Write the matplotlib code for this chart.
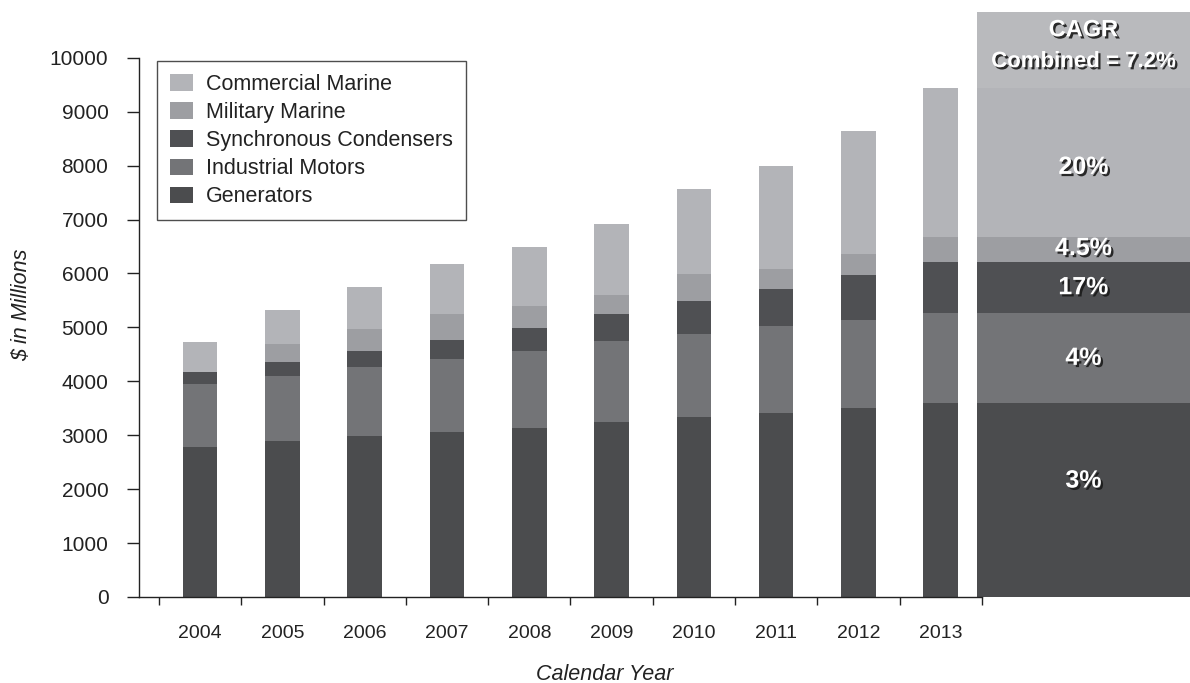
import matplotlib
matplotlib.use("Agg")
import matplotlib.pyplot as plt
import matplotlib.patheffects as pe
import numpy as np

plt.rcParams['font.family'] = ['Liberation Sans', 'DejaVu Sans']

# data ($ in millions)
years = ['2004', '2005', '2006', '2007', '2008', '2009', '2010', '2011', '2012', '2013']
generators = [2780, 2890, 2990, 3060, 3140, 3250, 3340, 3410, 3510, 3600]
industrial_motors = [1170, 1210, 1280, 1360, 1420, 1500, 1540, 1620, 1630, 1670]
sync_condensers = [220, 260, 290, 350, 430, 500, 610, 680, 830, 950]
military_marine = [0, 330, 410, 480, 410, 350, 500, 380, 390, 460]
commercial_marine = [560, 630, 780, 930, 1090, 1320, 1580, 1910, 2290, 2760]

series_names = ['Generators', 'Industrial Motors', 'Synchronous Condensers',
                'Military Marine', 'Commercial Marine']
series_colors = ['#4b4c4e', '#737477', '#4f5053', '#9d9ea2', '#b3b4b8']
cagr_labels = ['3%', '4%', '17%', '4.5%', '20%']
cagr_title = 'CAGR'
cagr_combined = 'Combined = 7.2%'

text_color = '#222222'

fig = plt.figure(figsize=(11.9, 6.83), dpi=100)
ax = fig.add_axes([139 / 1190, 86 / 683, 1051 / 1190, 585 / 683])

series = [generators, industrial_motors, sync_condensers, military_marine, commercial_marine]
x = np.arange(len(years))
bottom = np.zeros(len(years))
handles = []
for name, vals, col in zip(series_names, series, series_colors):
    b = ax.bar(x, vals, width=0.42, bottom=bottom, color=col, label=name, linewidth=0)
    handles.append(b)
    bottom += np.array(vals)

# CAGR panel on the right, banded like the 2013 bar
panel_left, panel_right = 9.44, 12.03
panel_top = 10850
pc = (panel_left + panel_right) / 2
pw = panel_right - panel_left
pb = 0
shadow = [pe.withSimplePatchShadow(offset=(1.6, -1.6), shadow_rgbFace='#1a1a1a', alpha=0.9)]
# where in each band the label sits (fraction of band height)
label_frac = [0.6, 0.5, 0.5, 0.55, 0.47]
for vals, col, lab, fr in zip(series, series_colors, cagr_labels, label_frac):
    v = vals[-1]
    ax.bar(pc, v, width=pw, bottom=pb, color=col, linewidth=0, clip_on=False)
    ax.text(pc, pb + v * fr, lab, ha='center', va='center', color='white',
            fontsize=18, fontweight='bold', path_effects=shadow)
    pb += v
ax.bar(pc, panel_top - pb, width=pw, bottom=pb, color='#b9babd', linewidth=0, clip_on=False)
ax.text(pc, 10520, cagr_title, ha='center', va='center', color='white',
        fontsize=17, fontweight='bold', path_effects=shadow)
ax.text(pc, 9930, cagr_combined, ha='center', va='center', color='white',
        fontsize=16, fontweight='bold', path_effects=shadow)

ax.set_xlim(-0.743, 12.03)
ax.set_ylim(0, panel_top)

for s in ['top', 'right']:
    ax.spines[s].set_visible(False)
ax.spines['left'].set_bounds(0, 10000)
ax.spines['bottom'].set_bounds(-0.743, 9.5)
for s in ['left', 'bottom']:
    ax.spines[s].set_color(text_color)
    ax.spines[s].set_linewidth(1.0)

ax.set_yticks(np.arange(0, 10001, 1000))
ax.tick_params(axis='y', length=9, width=1, color=text_color, labelsize=15,
               labelcolor=text_color, pad=13)

ax.set_xticks(np.arange(-0.5, 10, 1))
ax.set_xticklabels([])
ax.tick_params(axis='x', which='major', length=6, width=1, color=text_color)
ax.set_xticks(x, minor=True)
ax.set_xticklabels(years, minor=True)
ax.tick_params(axis='x', which='minor', length=0, labelsize=14,
               labelcolor=text_color, pad=20)

ax.set_ylabel('$ in Millions', fontsize=15.5, style='italic', color=text_color)
ax.yaxis.set_label_coords(-(139 - 32) / 1051, (597 - 305) / 585)
ax.set_xlabel('Calendar Year', fontsize=15.5, style='italic', color=text_color)
ax.xaxis.set_label_coords((605 - 139) / 1051, -(664 - 597) / 585)

leg = ax.legend(handles[::-1], series_names[::-1], loc='upper left',
                bbox_to_anchor=((157 - 139) / 1051, (597 - 61) / 585),
                borderaxespad=0, fontsize=15.5, frameon=True, fancybox=False,
                edgecolor=text_color, handlelength=1.07, handleheight=0.8,
                handletextpad=0.6, labelspacing=0.33, borderpad=0.6,
                labelcolor=text_color)
leg.get_frame().set_linewidth(1.0)

fig.savefig('out.png', dpi=100)
